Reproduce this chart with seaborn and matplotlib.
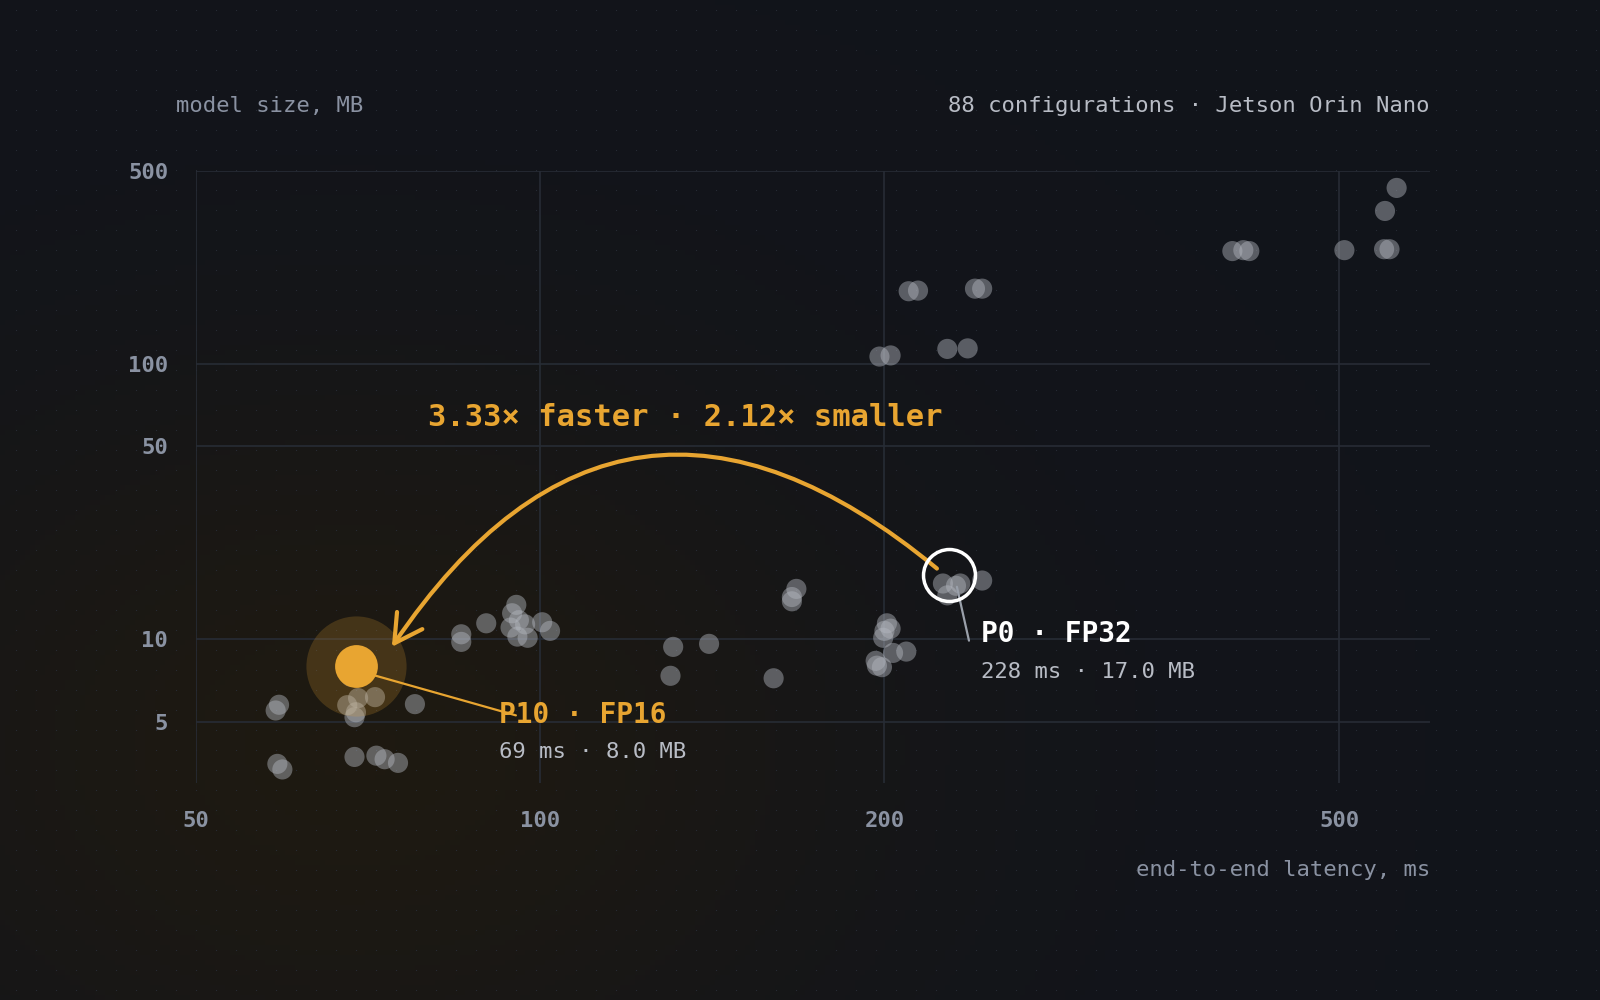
import numpy as np
import pandas as pd
import matplotlib
matplotlib.use("Agg")
import matplotlib.pyplot as plt
import seaborn as sns
from matplotlib.patches import FancyArrowPatch

latency_ms = [59.1, 58.7, 58.9, 59.5, 67.8, 69.0, 68.8, 69.3, 71.7, 77.7, 68.3,
              68.8, 71.9, 73.1, 75.1,
              85.3, 85.3, 89.7, 95.3, 94.5, 95.8, 94.2, 97.0, 95.5, 97.5, 100.4, 102.0,
              130.7, 140.5, 130.0, 160.0, 167.5, 166.0, 166.0,
              201.0, 200.0, 199.5, 202.5, 203.5, 209.0, 196.5, 199.0, 197.0,
              225.0, 227.0, 231.0, 233.0, 243.5,
              198.0, 202.5, 210.0, 214.0, 227.0, 236.5, 240.0, 243.5,
              403.0, 412.0, 417.0, 505.0, 547.0, 553.0, 548.0, 561.0]
size_mb = [5.77, 5.5, 3.52, 3.36, 5.75, 5.42, 5.2, 6.1, 6.15, 5.8, 7.29,
           3.73, 3.77, 3.66, 3.55,
           10.4, 9.76, 11.4, 13.3, 12.4, 11.7, 11.0, 11.3, 10.2, 10.1, 11.5, 10.7,
           9.36, 9.6, 7.35, 7.2, 15.2, 14.2, 13.7,
           11.4, 10.7, 10.1, 10.9, 8.9, 9.0, 8.33, 7.9, 8.0,
           15.9, 14.4, 15.6, 15.9, 16.3,
           106, 107, 183, 184, 113, 113.5, 187, 187,
           256, 258, 256, 258, 260, 260, 358, 434]

best = {"name": "P10 · FP16", "lat": 69, "size": 8.0}
base = {"name": "P0 · FP32", "lat": 228, "size": 17.0}
x_ticks = [50, 100, 200, 500]
y_ticks = [5, 10, 50, 100, 500]

ORANGE = "#e8a531"
BG = "#11141b"
TICK = "#8a92a2"
MONO = "DejaVu Sans Mono"

sns.set_theme(style="dark")
plt.rcParams["font.family"] = [MONO]

fig = plt.figure(figsize=(16, 10), dpi=100)
fig.patch.set_facecolor(BG)

bg = fig.add_axes([0, 0, 1, 1], zorder=-10)
yy, xx = np.mgrid[0:1:200j, 0:1:320j]
glow = np.exp(-(((xx - 0.22) / 0.32) ** 2 + ((yy - 0.25) / 0.38) ** 2))
base_c = np.array([0.07, 0.08, 0.105])
warm = np.array([0.13, 0.105, 0.06])
img = base_c[None, None, :] * (1 - glow[..., None] * 0.8) + warm[None, None, :] * glow[..., None] * 0.8
bg.imshow(img, extent=[0, 1, 0, 1], aspect="auto", origin="lower")
gx, gy = np.meshgrid(np.arange(0.01, 1, 0.0125), np.arange(0.01, 1, 0.02))
bg.scatter(gx.ravel(), gy.ravel(), s=0.6, color="#2a2f3a", lw=0)
bg.set_xlim(0, 1); bg.set_ylim(0, 1); bg.axis("off")

ax = fig.add_axes([0.1225, 0.217, 0.77125, 0.612])
ax.set_facecolor("none")
df = pd.DataFrame({"lat": latency_ms, "size": size_mb})
sns.scatterplot(data=df, x="lat", y="size", ax=ax, s=210, color="#b4b8c0",
                alpha=0.45, edgecolor="none", legend=False, zorder=3)
ax.set_xscale("log"); ax.set_yscale("log")
ax.set_xlim(50, 600); ax.set_ylim(3.0, 500)
ax.set_xticks(x_ticks); ax.set_xticklabels([str(t) for t in x_ticks])
ax.set_yticks(y_ticks); ax.set_yticklabels([str(t) for t in y_ticks])
ax.minorticks_off()
ax.grid(True, color="#272c35", lw=1.2)
for s in ax.spines.values():
    s.set_visible(False)
ax.tick_params(colors=TICK, labelsize=16, length=0, pad=20)
for lab in ax.get_xticklabels() + ax.get_yticklabels():
    lab.set_fontweight("bold")
ax.set_xlabel(""); ax.set_ylabel("")

ax.scatter([best["lat"]], [best["size"]], s=5200, color=ORANGE, alpha=0.2, lw=0, zorder=4)
ax.scatter([best["lat"]], [best["size"]], s=950, color=ORANGE, lw=0, zorder=6)
ax.scatter([base["lat"]], [base["size"]], s=1400, facecolor="none", edgecolor="white", lw=2.5, zorder=6)

ax.plot([best["lat"] * 1.04, best["lat"] * 1.38], [best["size"] * 0.92, best["size"] * 0.66],
        color=ORANGE, lw=1.6, zorder=5)
ax.plot([base["lat"] * 1.015, base["lat"] * 1.04], [base["size"] * 0.91, base["size"] * 0.58],
        color="#9aa0aa", lw=1.6, zorder=5)

arr = FancyArrowPatch((base["lat"] * 0.975, base["size"] * 1.06), (best["lat"] * 1.075, best["size"] * 1.17),
                      connectionstyle="arc3,rad=0.55",
                      arrowstyle="->,head_length=0.9,head_width=0.5", mutation_scale=22,
                      color=ORANGE, lw=3, zorder=5, transform=ax.transData, shrinkA=0, shrinkB=0)
ax.add_patch(arr)

def ftxt(px, py, s, **kw):
    fig.text(px / 1600, 1 - py / 1000, s, **kw)

ftxt(428, 418, "3.33× faster · 2.12× smaller", color=ORANGE, fontsize=22,
     fontweight="bold", va="center")
ftxt(981, 634, base["name"], color="white", fontsize=20, fontweight="bold", va="center")
ftxt(981, 672, f"{base['lat']} ms · {base['size']:.1f} MB", color="#b8bcc5", fontsize=16, va="center")
ftxt(499, 715, best["name"], color=ORANGE, fontsize=20, fontweight="bold", va="center")
ftxt(499, 752, f"{best['lat']} ms · {best['size']:.1f} MB", color="#b8bcc5", fontsize=16, va="center")
ftxt(176, 106, "model size, MB", color=TICK, fontsize=16, va="center")
ftxt(1430, 106, "88 configurations · Jetson Orin Nano", color="#b8bcc5", fontsize=16, va="center", ha="right")
ftxt(1430, 870, "end-to-end latency, ms", color=TICK, fontsize=16, va="center", ha="right")

fig.savefig("out.png", dpi=100, facecolor=BG)
